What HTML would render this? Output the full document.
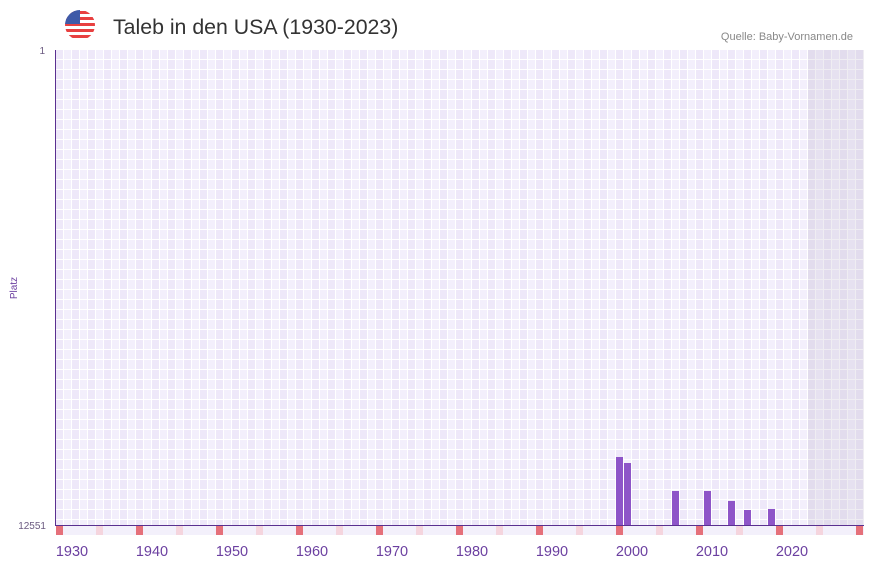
<!DOCTYPE html>
<html><head><meta charset="utf-8"><style>
body{margin:0;background:#fff;font-family:"Liberation Sans",sans-serif}
</style></head><body>
<svg width="873" height="567" xmlns="http://www.w3.org/2000/svg">
<defs>
<pattern id="g" x="56" y="50" width="8" height="10" patternUnits="userSpaceOnUse">
<rect width="8" height="10" fill="#fff"/><rect width="7" height="9" fill="#eee8f9"/>
</pattern>
<pattern id="g2" x="56" y="50" width="16" height="10" patternUnits="userSpaceOnUse">
<rect x="8" width="7" height="9" fill="#f3effc"/>
</pattern>
<clipPath id="c"><circle cx="80" cy="25" r="15"/></clipPath>
</defs>
<g clip-path="url(#c)">
<rect x="64" y="9" width="32" height="32" fill="#fff"/>
<rect x="64" y="11" width="32" height="3" fill="#e84040"/>
<rect x="64" y="17" width="32" height="3" fill="#e84040"/>
<rect x="64" y="23" width="32" height="3" fill="#e84040"/>
<rect x="64" y="29" width="32" height="3" fill="#e84040"/>
<rect x="64" y="35" width="32" height="3" fill="#e84040"/>
<rect x="64" y="9" width="16" height="15" fill="#3f5aa8"/>
</g>
<text x="113" y="34" font-size="21.3" fill="#333">Taleb in den USA (1930-2023)</text>
<text x="853" y="40" font-size="11" fill="#888" text-anchor="end">Quelle: Baby-Vornamen.de</text>
<rect x="56" y="50" width="808" height="475" fill="url(#g)"/>
<rect x="56" y="50" width="808" height="475" fill="url(#g2)"/>
<rect x="808" y="50" width="56" height="475" fill="#c0b8cc" opacity="0.25"/>
<g fill="#8e55c8">
<rect x="616" y="457" width="7" height="68"/>
<rect x="624" y="463" width="7" height="62"/>
<rect x="672" y="491" width="7" height="34"/>
<rect x="704" y="491" width="7" height="34"/>
<rect x="728" y="501" width="7" height="24"/>
<rect x="744" y="510" width="7" height="15"/>
<rect x="768" y="509" width="7" height="16"/>
</g>
<rect x="56" y="526" width="808" height="9" fill="#f3f0fb"/>
<g fill="#e5707a">
<rect x="56" y="526" width="7" height="9"/><rect x="136" y="526" width="7" height="9"/><rect x="216" y="526" width="7" height="9"/><rect x="296" y="526" width="7" height="9"/><rect x="376" y="526" width="7" height="9"/><rect x="456" y="526" width="7" height="9"/><rect x="536" y="526" width="7" height="9"/><rect x="616" y="526" width="7" height="9"/><rect x="696" y="526" width="7" height="9"/><rect x="776" y="526" width="7" height="9"/><rect x="856" y="526" width="7" height="9"/>
</g>
<g fill="#f5d5de">
<rect x="96" y="526" width="7" height="9"/><rect x="176" y="526" width="7" height="9"/><rect x="256" y="526" width="7" height="9"/><rect x="336" y="526" width="7" height="9"/><rect x="416" y="526" width="7" height="9"/><rect x="496" y="526" width="7" height="9"/><rect x="576" y="526" width="7" height="9"/><rect x="656" y="526" width="7" height="9"/><rect x="736" y="526" width="7" height="9"/><rect x="816" y="526" width="7" height="9"/>
</g>
<line x1="55.5" y1="50" x2="55.5" y2="525" stroke="#5a3090" stroke-width="1"/>
<line x1="55" y1="525.5" x2="864" y2="525.5" stroke="#5a3090" stroke-width="1"/>
<g font-size="14.5" fill="#6b3fa0" text-anchor="middle">
<text x="72" y="556">1930</text><text x="152" y="556">1940</text><text x="232" y="556">1950</text><text x="312" y="556">1960</text><text x="392" y="556">1970</text><text x="472" y="556">1980</text><text x="552" y="556">1990</text><text x="632" y="556">2000</text><text x="712" y="556">2010</text><text x="792" y="556">2020</text>
</g>
<g font-size="10" fill="#6b5a80" text-anchor="end">
<text x="45" y="54">1</text><text x="46" y="529">12551</text>
</g>
<text transform="translate(17,288) rotate(-90)" font-size="10" fill="#6b3fa0" text-anchor="middle">Platz</text>
</svg>
</body></html>
